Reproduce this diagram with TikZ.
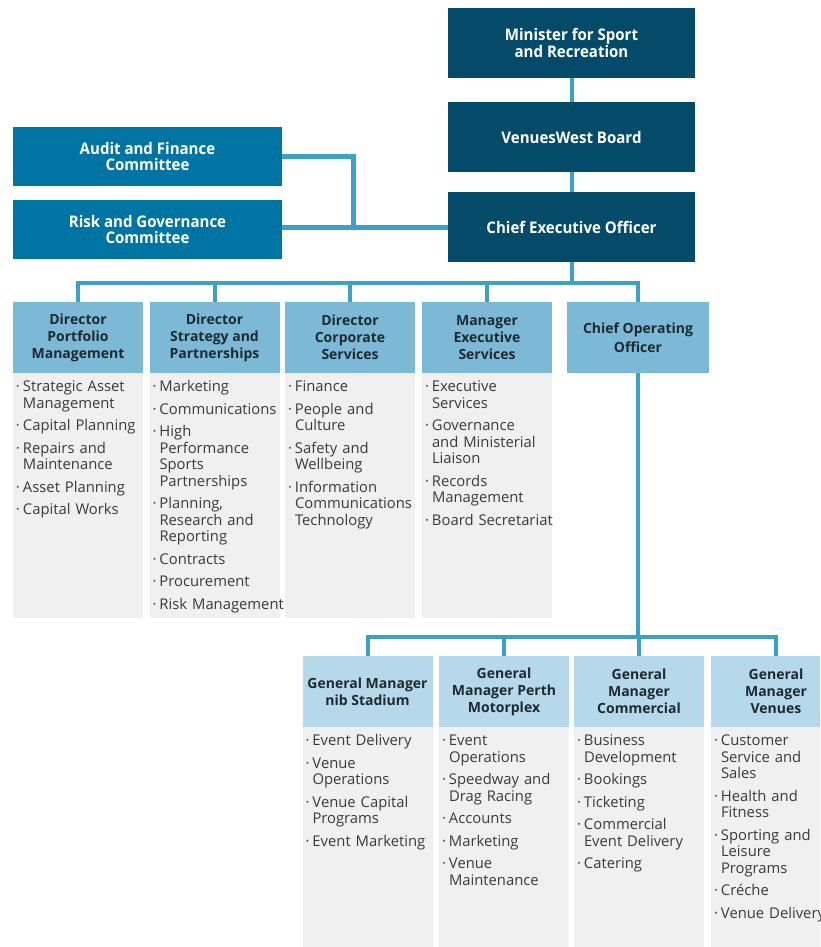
\documentclass[tikz,border=0pt]{standalone}
\usepackage{fontspec}
\setmainfont{Open Sans}
\newfontfamily\condfont[FakeStretch=0.94]{Open Sans}
\definecolor{navy}{HTML}{044B6A}
\definecolor{midblue}{HTML}{0074A2}
\definecolor{hdrblue}{HTML}{7CB9D7}
\definecolor{gmblue}{HTML}{B5D9EA}
\definecolor{bodygray}{HTML}{F0F0F0}
\definecolor{linkblue}{HTML}{3AA2C9}
\definecolor{hdrtext}{HTML}{1F2A30}
\definecolor{bodytext}{HTML}{3A3A3A}
\newcommand\itm[1]{\par\hangindent=7pt\hangafter=1\noindent\makebox[7pt][l]{·}#1}
\newcommand\nl{\hfil\break}
\tikzset{
  topbox/.style={fill=navy, text=white, font=\condfont\bfseries\fontsize{16}{16.5}\selectfont, align=center, minimum width=247pt, minimum height=70pt, inner sep=0pt},
  combox/.style={fill=midblue, text=white, font=\condfont\bfseries\fontsize{16}{16}\selectfont, align=center, minimum width=269pt, minimum height=59pt, inner sep=0pt},
  hdr/.style={fill=hdrblue, text=hdrtext, font=\bfseries\fontsize{14}{17}\selectfont, align=center, minimum width=130pt, minimum height=71pt, inner sep=0pt},
  gmhdr/.style={hdr, fill=gmblue},
  bodybox/.style={fill=bodygray, minimum width=130pt, inner sep=0pt, anchor=north},
  items/.style={anchor=north west, inner sep=0pt, text width=150pt, text=bodytext, font=\fontsize{14.8}{16.5}\selectfont\raggedright\setlength\parskip{6pt}},
  link/.style={draw=linkblue, line width=4pt},
  thicklink/.style={draw=linkblue, line width=5pt}
}
\begin{document}
\begin{tikzpicture}[x=1pt,y=-1pt]
\useasboundingbox (0,0) rectangle (820,947);
\clip (0,0) rectangle (820,947);
\fill[white] (0,0) rectangle (820,947);

% top
\node[topbox] (min) at (571.5,43) {Minister for Sport\\and Recreation};
\node[topbox] (board) at (571.5,137) {VenuesWest Board};
\node[topbox] (ceo) at (571.5,227) {Chief Executive Officer};
\node[combox] (audit) at (147.5,156.5) {Audit and Finance\\Committee};
\node[combox] (risk) at (147.5,229.5) {Risk and Governance\\Committee};
\coordinate (j1) at (353,228);
\coordinate (bus) at (0,283);
\coordinate (bus2) at (0,637);

% directors
\node[hdr] (d1) at (78,337.5) {Director\\Portfolio\\Management};
\node[hdr] (d2) at (214.5,337.5) {Director\\Strategy and\\Partnerships};
\node[hdr] (d3) at (350,337.5) {Director\\Corporate\\Services};
\node[hdr] (d4) at (487,337.5) {Manager\\Executive\\Services};
\node[hdr, minimum width=142pt, font=\bfseries\fontsize{14}{19}\selectfont] (coo) at (638,337.5) {Chief Operating\\Officer};

\node[bodybox, minimum height=245pt] (b1) at (d1.south) {};
\node[bodybox, minimum height=245pt] (b2) at (d2.south) {};
\node[bodybox, minimum height=245pt] (b3) at (d3.south) {};
\node[bodybox, minimum height=245pt] (b4) at (d4.south) {};

% general managers
\node[gmhdr] (g1) at (367.5,691.5) {General Manager\\nib Stadium};
\node[gmhdr] (g2) at (504,691.5) {General\\Manager Perth\\Motorplex};
\node[gmhdr] (g3) at (639,691.5) {General\\Manager\\Commercial};
\node[gmhdr] (g4) at (776,691.5) {General\\Manager\\Venues};

\node[bodybox, minimum height=230pt] (c1) at (g1.south) {};
\node[bodybox, minimum height=230pt] (c2) at (g2.south) {};
\node[bodybox, minimum height=230pt] (c3) at (g3.south) {};
\node[bodybox, minimum height=230pt] (c4) at (g4.south) {};

% item lists
\node[items] (t1) at ([xshift=3pt,yshift=4pt]b1.north west) {%
\itm{Strategic Asset\nl Management}
\itm{Capital Planning}
\itm{Repairs and\nl Maintenance}
\itm{Asset Planning}
\itm{Capital Works}\par};
\node[items] (t2) at ([xshift=3pt,yshift=4pt]b2.north west) {%
\itm{Marketing}
\itm{Communications}
\itm{High\nl Performance\nl Sports\nl Partnerships}
\itm{Planning,\nl Research and\nl Reporting}
\itm{Contracts}
\itm{Procurement}
\itm{Risk Management}\par};
\node[items] (t3) at ([xshift=3pt,yshift=4pt]b3.north west) {%
\itm{Finance}
\itm{People and\nl Culture}
\itm{Safety and\nl Wellbeing}
\itm{Information\nl Communications\nl Technology}\par};
\node[items] (t4) at ([xshift=3pt,yshift=4pt]b4.north west) {%
\itm{Executive\nl Services}
\itm{Governance\nl and Ministerial\nl Liaison}
\itm{Records\nl Management}
\itm{Board Secretariat}\par};

\node[items] (u1) at ([xshift=3pt,yshift=4pt]c1.north west) {%
\itm{Event Delivery}
\itm{Venue\nl Operations}
\itm{Venue Capital\nl Programs}
\itm{Event Marketing}\par};
\node[items] (u2) at ([xshift=3pt,yshift=4pt]c2.north west) {%
\itm{Event\nl Operations}
\itm{Speedway and\nl Drag Racing}
\itm{Accounts}
\itm{Marketing}
\itm{Venue\nl Maintenance}\par};
\node[items] (u3) at ([xshift=3pt,yshift=4pt]c3.north west) {%
\itm{Business\nl Development}
\itm{Bookings}
\itm{Ticketing}
\itm{Commercial\nl Event Delivery}
\itm{Catering}\par};
\node[items] (u4) at ([xshift=3pt,yshift=4pt]c4.north west) {%
\itm{Customer\nl Service and\nl Sales}
\itm{Health and\nl Fitness}
\itm{Sporting and\nl Leisure\nl Programs}
\itm{Créche}
\itm{Venue Delivery}\par};

% connectors
\draw[link] (min.south) -- (board.north);
\draw[link] (board.south) -- (ceo.north);
\draw[thicklink] (ceo.west) -- (risk.east |- ceo.west);
\draw[thicklink] (audit.east) -| (j1);
\draw[link] (ceo.south) -- (ceo.south |- bus);
\draw[link] (d1.north) -- (d1.north |- bus) -- (coo.north |- bus) -- (coo.north);
\draw[link] (d2.north) -- (d2.north |- bus);
\draw[link] (d3.north) -- (d3.north |- bus);
\draw[link] (d4.north) -- (d4.north |- bus);
\draw[link] (coo.south) -- (coo.south |- bus2);
\draw[link] (g1.north) -- (g1.north |- bus2) -- (g4.north |- bus2) -- (g4.north);
\draw[link] (g2.north) -- (g2.north |- bus2);
\draw[link] (g3.north) -- (g3.north |- bus2);
\end{tikzpicture}
\end{document}
